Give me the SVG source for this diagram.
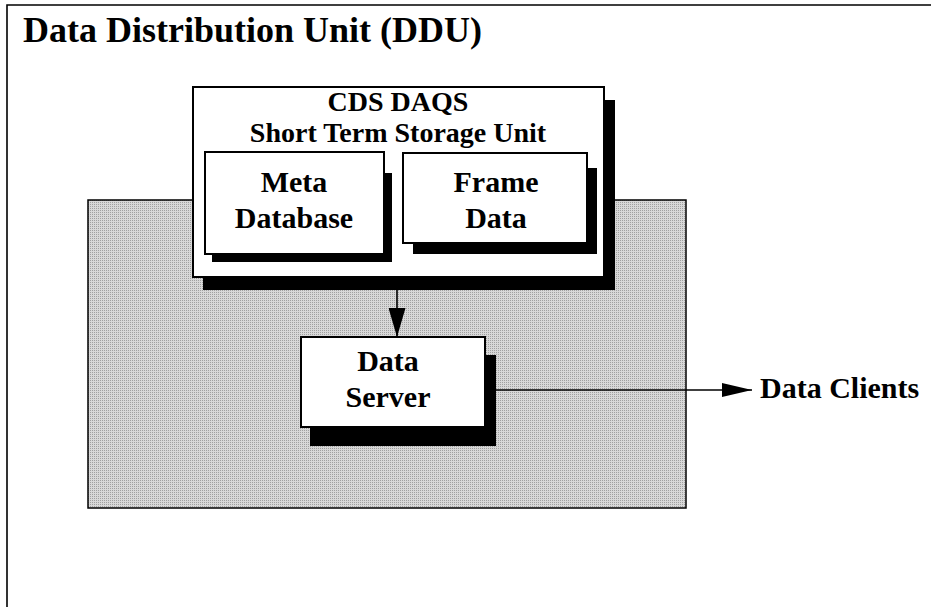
<svg xmlns="http://www.w3.org/2000/svg" width="931" height="607" viewBox="0 0 931 607">
<style>
.t{font-family:"Liberation Serif","Times New Roman",serif;font-weight:bold;fill:#000}
.box{fill:#fff;stroke:#000;stroke-width:2}
.sh{fill:#000}
.ln{stroke:#000;stroke-width:1.6;fill:none}
</style>
<defs>
<pattern id="dots" width="2" height="2" patternUnits="userSpaceOnUse">
<rect width="2" height="2" fill="#d8d8d8"/>
<rect width="1" height="1" fill="#a0a0a0"/>
</pattern>
<marker id="ah" viewBox="0 0 30 14" refX="30" refY="7" markerWidth="30" markerHeight="14" markerUnits="userSpaceOnUse" orient="auto">
<path d="M0,0 L30,7 L0,14 Z" fill="#000"/>
</marker>
<marker id="ah2" viewBox="0 0 29 17" refX="29" refY="8.5" markerWidth="29" markerHeight="17" markerUnits="userSpaceOnUse" orient="auto">
<path d="M0,0 L29,8.5 L0,17 Z" fill="#000"/>
</marker>
</defs>
<rect width="931" height="607" fill="#fff"/>
<g id="frame">
<path d="M7,607 L7,5 L931,5" class="ln" stroke-width="2"/>
<text class="t" x="23" y="42" font-size="36">Data Distribution Unit (DDU)</text>
</g>
<g id="ddu-area">
<rect x="88" y="200" width="598" height="308" fill="url(#dots)" stroke="#000" stroke-width="1.5"/>
</g>
<g id="connectors">
<line x1="397" y1="290" x2="397" y2="337" class="ln" marker-end="url(#ah2)"/>
<line x1="496" y1="390" x2="752" y2="390" class="ln" marker-end="url(#ah)"/>
</g>
<g id="storage-unit">
<rect class="sh" x="203" y="100" width="412" height="190"/>
<rect class="box" x="193" y="87" width="411" height="190"/>
<text class="t" x="398" y="111" font-size="28" text-anchor="middle">CDS DAQS</text>
<text class="t" x="398" y="142" font-size="28" text-anchor="middle">Short Term Storage Unit</text>
</g>
<g id="meta-database">
<rect class="sh" x="212" y="173" width="180" height="89"/>
<rect class="box" x="205" y="152" width="179" height="102"/>
<text class="t" x="294" y="192" font-size="30" text-anchor="middle">Meta</text>
<text class="t" x="294" y="228" font-size="30" text-anchor="middle">Database</text>
</g>
<g id="frame-data">
<rect class="sh" x="413" y="168" width="184" height="86"/>
<rect class="box" x="403" y="153" width="184" height="90"/>
<text class="t" x="496" y="192" font-size="30" text-anchor="middle">Frame</text>
<text class="t" x="496" y="228" font-size="30" text-anchor="middle">Data</text>
</g>
<g id="data-server">
<rect class="sh" x="310" y="355" width="186" height="91"/>
<rect class="box" x="301" y="337" width="184" height="90"/>
<text class="t" x="388" y="371" font-size="30" text-anchor="middle">Data</text>
<text class="t" x="388" y="407" font-size="30" text-anchor="middle">Server</text>
</g>
<g id="data-clients">
<text class="t" x="760" y="398" font-size="30">Data Clients</text>
</g>
</svg>
